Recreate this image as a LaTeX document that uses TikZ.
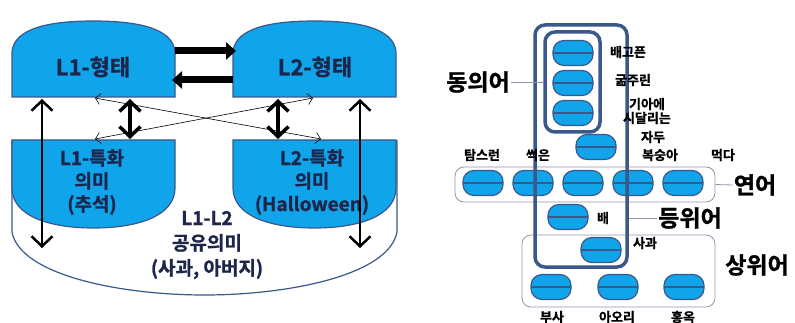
\documentclass[tikz,border=0pt]{standalone}
\usepackage{fontspec}
\setmainfont{Noto Sans CJK KR}[BoldFont={Noto Sans CJK KR Bold}, BoldFeatures={FakeBold=1.2}]
\usetikzlibrary{arrows.meta,positioning}
\definecolor{boxblue}{RGB}{16,164,234}
\definecolor{edge}{RGB}{58,88,138}
\definecolor{navy}{RGB}{28,38,75}
\definecolor{groupline}{RGB}{140,150,172}

\begin{document}
\begin{tikzpicture}[x=1pt, y=-1pt,
    blob/.style={fill=boxblue, draw=edge, line width=1.2pt},
    biglabel/.style={font=\fontsize{22}{24}\selectfont\bfseries, text=navy},
    midlabel/.style={font=\fontsize{19}{23}\selectfont\bfseries, text=navy, align=center},
    fat/.style={line width=7pt, -{Triangle[length=10pt,width=17pt]}},
    longarr/.style={line width=2.5pt, {Straight Barb[length=10pt,width=21pt]}-{Straight Barb[length=10pt,width=21pt]}},
    shortarr/.style={line width=3.5pt, {Straight Barb[length=10pt,width=21pt]}-{Straight Barb[length=10pt,width=21pt]}},
    thinarr/.style={line width=0.6pt, {Straight Barb[length=5pt,width=11pt]}-{Straight Barb[length=5pt,width=11pt]}},
    disk/.style={draw=edge, fill=boxblue, line width=1.2pt, rounded corners=11pt,
                 minimum width=40pt, minimum height=25pt, inner sep=0pt,
                 path picture={\draw[edge, line width=1.2pt] (path picture bounding box.west) -- (path picture bounding box.east);}},
    word/.style={font=\fontsize{13}{14}\selectfont\bfseries, align=center, inner sep=1pt},
    grouptext/.style={font=\fontsize{23}{25}\selectfont\bfseries, inner sep=1pt},
    thickbox/.style={draw=edge, line width=3.5pt, rounded corners=10pt},
    thinbox/.style={draw=groupline, line width=0.8pt, rounded corners=9pt}
]
    \useasboundingbox (0,0) rectangle (795,323);

    % Shared meaning container
    \draw[edge, line width=1.2pt, fill=white] (12,140) -- (12,232)
        .. controls (20,275) and (120,295) .. (204.5,295)
        .. controls (289,295) and (389,275) .. (397,232) -- (397,140);

    % Specific meaning boxes
    \foreach \dx in {0,221} {
        \draw[blob, xshift=\dx] (12,140) -- (175,140) -- (175,188)
            .. controls (175,215) and (140,228) .. (93.5,228)
            .. controls (47,228) and (12,215) .. (12,188) -- cycle;
    }

    % Form boxes
    \foreach \dx in {0,221} {
        \draw[blob, xshift=\dx] (12,97) -- (12,52)
            .. controls (14,28) and (50,21) .. (93.5,21)
            .. controls (137,21) and (173,28) .. (175,52) -- (175,97) -- cycle;
    }

    % Labels
    \node[biglabel] (form1) at (93,67) {L1-형태};
    \node[biglabel] (form2) at (315,67) {L2-형태};
    \node[midlabel] (spec1) at (92,182) {L1-특화\\의미\\(추석)};
    \node[midlabel] (spec2) at (312,182) {L2-특화\\의미\\(Halloween)};
    \node[midlabel, font=\fontsize{19}{25}\selectfont\bfseries] (shared) at (207,245) {L1-L2\\공유의미\\(사과, 아버지)};

    % Arrow ends
    \coordinate (f1) at (175,51);  \coordinate (f2) at (236,51);
    \coordinate (f3) at (233,80);  \coordinate (f4) at (172,80);
    \coordinate (t1) at (42,99);   \coordinate (b1) at (42,248);
    \coordinate (t2) at (360,99);  \coordinate (b2) at (360,248);
    \coordinate (m1a) at (130,99); \coordinate (m1b) at (130,139);
    \coordinate (m2a) at (278,99); \coordinate (m2b) at (278,139);
    \coordinate (xa) at (95,98);   \coordinate (xb) at (321,139);
    \coordinate (xc) at (95,139);  \coordinate (xd) at (313,98);

    % Arrows
    \draw[fat] (f1) -- (f2);
    \draw[fat] (f3) -- (f4);
    \draw[longarr] (t1) -- (b1);
    \draw[longarr] (t2) -- (b2);
    \draw[shortarr] (m1a) -- (m1b);
    \draw[shortarr] (m2a) -- (m2b);
    \draw[thinarr] (xa) -- (xb);
    \draw[thinarr] (xc) -- (xd);

    % Group frames
    \node[thinbox, minimum width=260pt, minimum height=35pt] (rowbox) at (585,184.5) {};
    \node[thinbox, minimum width=193pt, minimum height=72pt] (hyperbox) at (618.5,271) {};

    % Disks
    \node[disk] (hungry) at (573,53) {};
    \node[disk] (starving) at (573,83) {};
    \node[disk] (famished) at (573,113) {};
    \node[disk] (plum) at (596,147) {};
    \foreach \x [count=\i] in {483,533,583,633,683}
        \node[disk] (row\i) at (\x,183) {};
    \node[disk] (pear) at (568,217) {};
    \node[disk] (apple) at (601,250) {};
    \foreach \x [count=\i] in {551,618,684}
        \node[disk] (kind\i) at (\x,287) {};

    % Synonym frames
    \node[thickbox, minimum width=92pt, minimum height=242pt] (outer) at (581,146) {};
    \node[thickbox, minimum width=55pt, minimum height=100pt] (inner) at (572.5,82) {};

    % Words
    \node[word] (w1) at (628,52) {배고픈};
    \node[word] (w2) at (633,80) {굶주린};
    \node[word] (w3) at (647,111) {기아에\\시달리는};
    \node[word] (w4) at (653,137) {자두};
    \node[word] (w5) at (482,155) {탐스런};
    \node[word] (w6) at (538,155) {썩은};
    \node[word] (w7) at (660,155) {복숭아};
    \node[word] (w8) at (723,155) {먹다};
    \node[word] (w9) at (603,218) {배};
    \node[word] (w10) at (645,243) {사과};
    \node[word] (w11) at (552,317) {부사};
    \node[word] (w12) at (617,317) {아오리};
    \node[word] (w13) at (683,317) {홍옥};

    % Relation names
    \node[grouptext] (syn) at (478,82) {동의어};
    \node[grouptext] (col) at (755,185) {연어};
    \node[grouptext] (coord) at (690,218) {등위어};
    \node[grouptext] (hyper) at (757,265) {상위어};

    \draw[groupline, line width=0.8pt] (syn.east) -- (inner.west);
    \draw[groupline, line width=0.8pt] (rowbox.east) -- (col.west);
    \draw[groupline, line width=0.8pt] (coord.west) -- (coord.west -| outer.east);
\end{tikzpicture}
\end{document}
